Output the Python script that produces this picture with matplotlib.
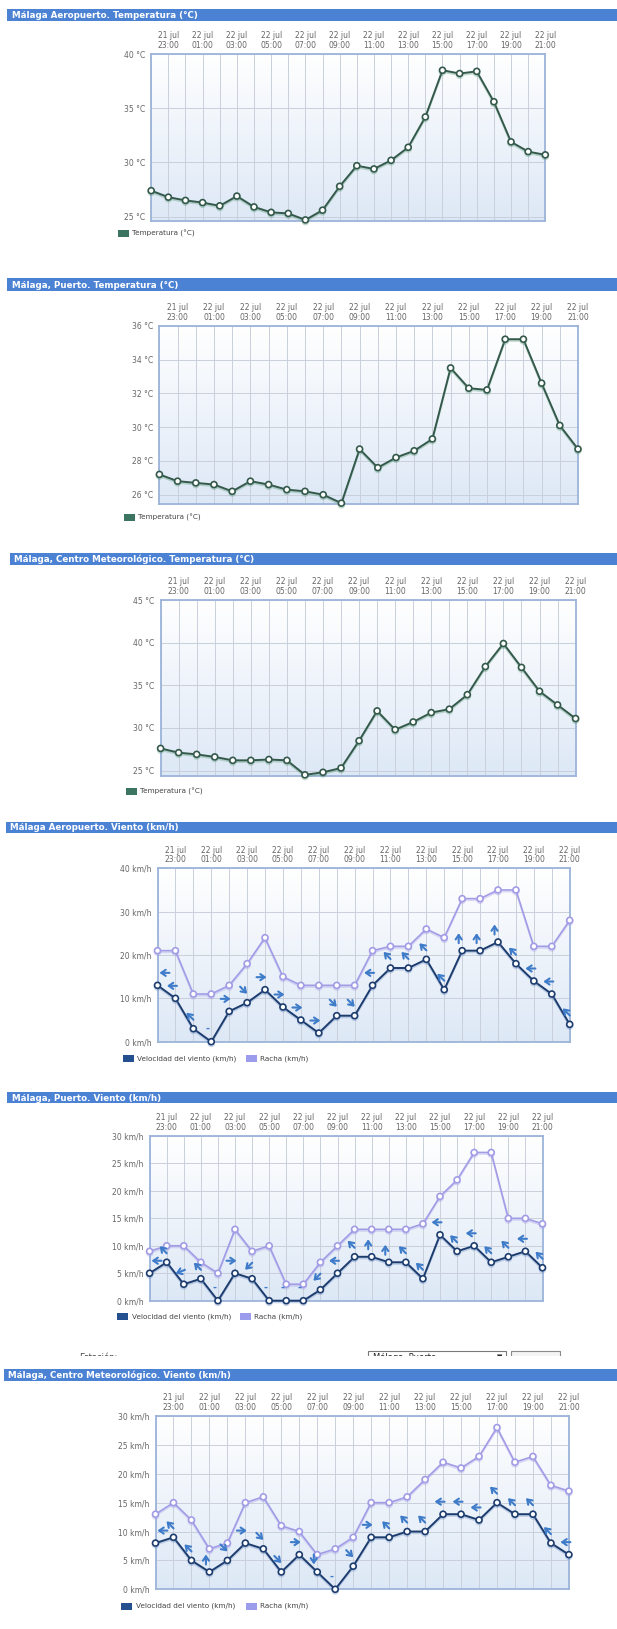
import numpy as np
import matplotlib
matplotlib.use("Agg")
import matplotlib.pyplot as plt
import matplotlib.patheffects as pe
from matplotlib.patches import Rectangle
from matplotlib.colors import LinearSegmentedColormap
from matplotlib.transforms import offset_copy

# ── Data (hourly, 21 jul 22:00 -> 22 jul 21:00) ─────────────────────────
tick_labels = ["21 jul\n23:00", "22 jul\n01:00", "22 jul\n03:00", "22 jul\n05:00",
               "22 jul\n07:00", "22 jul\n09:00", "22 jul\n11:00", "22 jul\n13:00",
               "22 jul\n15:00", "22 jul\n17:00", "22 jul\n19:00", "22 jul\n21:00"]

temp_aeropuerto = [27.4, 26.8, 26.5, 26.3, 26.0, 26.9, 25.9, 25.4, 25.3, 24.7, 25.6, 27.8,
                   29.7, 29.4, 30.2, 31.4, 34.2, 38.5, 38.2, 38.4, 35.6, 31.9, 31.0, 30.7]
temp_puerto = [27.2, 26.8, 26.7, 26.6, 26.2, 26.8, 26.6, 26.3, 26.2, 26.0, 25.5, 28.7,
               27.6, 28.2, 28.6, 29.3, 33.5, 32.3, 32.2, 35.2, 35.2, 32.6, 30.1, 28.7]
temp_centro = [27.6, 27.1, 26.9, 26.6, 26.2, 26.2, 26.3, 26.2, 24.5, 24.8, 25.3, 28.5,
               32.0, 29.8, 30.7, 31.8, 32.2, 33.9, 37.2, 39.9, 37.1, 34.3, 32.7, 31.1]

viento_aeropuerto = [13, 10, 3, 0, 7, 9, 12, 8, 5, 2, 6, 6, 13, 17, 17, 19, 12, 21, 21, 23, 18, 14, 11, 4]
racha_aeropuerto = [21, 21, 11, 11, 13, 18, 24, 15, 13, 13, 13, 13, 21, 22, 22, 26, 24, 33, 33, 35, 35, 22, 22, 28]
dir_aeropuerto = ["W", "W", "NW", "C", "E", "SE", "E", "E", "E", "E", "SE", "SE",
                  "W", "NW", "NW", "NW", "NW", "N", "N", "N", "NW", "W", "W", "NW"]

viento_puerto = [5, 7, 3, 4, 0, 5, 4, 0, 0, 0, 2, 5, 8, 8, 7, 7, 4, 12, 9, 10, 7, 8, 9, 6]
racha_puerto = [9, 10, 10, 7, 5, 13, 9, 10, 3, 3, 7, 10, 13, 13, 13, 13, 14, 19, 22, 27, 27, 15, 15, 14]
dir_puerto = ["W", "NW", "WSW", "NW", "C", "E", "SW", "C", "C", "C", "SW", "W",
              "NW", "N", "N", "NW", "NW", "W", "NW", "W", "NW", "NW", "W", "NW"]

viento_centro = [8, 9, 5, 3, 5, 8, 7, 3, 6, 3, 0, 4, 9, 9, 10, 10, 13, 13, 12, 15, 13, 13, 8, 6]
racha_centro = [13, 15, 12, 7, 8, 15, 16, 11, 10, 6, 7, 9, 15, 15, 16, 19, 22, 21, 23, 28, 22, 23, 18, 17]
dir_centro = ["W", "NW", "NW", "N", "SE", "E", "SE", "SE", "E", "S", "C", "SE",
              "E", "NW", "NW", "NW", "W", "W", "W", "NW", "NW", "NW", "NW", "W"]

ANGLE = {"E": 0, "NE": 45, "N": 90, "NW": 135, "W": 180, "WSW": 202.5,
         "SW": 225, "S": 270, "SE": 315}

# ── Style ────────────────────────────────────────────────────────────────
HEADER_BLUE = "#4c82d4"
TEMP_COL = "#34594b"
TEMP_LEG = "#3b7561"
SPEED_COL = "#1d3c6e"
SPEED_LEG = "#25508f"
RACHA_COL = "#a29ce6"
RACHA_LEG = "#9c9cec"
ARROW_COL = "#3e7bc9"
GRID_COL = "#c9d0db"
TXT_COL = "#666666"

W, H = 617, 1629
fig = plt.figure(figsize=(W / 100, H / 100), dpi=100)
bg_cmap = LinearSegmentedColormap.from_list("bg", ["#ffffff", "#dde8f6"])


def fx(x):
    return x / W


def fy(y):
    return 1 - y / H


def header(top, bottom, left, title):
    fig.add_artist(Rectangle((fx(left), fy(bottom)), 1 - fx(left), (bottom - top) / H,
                             transform=fig.transFigure, color=HEADER_BLUE, lw=0))
    fig.text(fx(left + 4.5), fy((top + bottom) / 2 + 0.5), title, color="white",
             fontsize=6.3, fontweight="bold", va="center", ha="left")


def legend(y, entries):
    for x, color, label in entries:
        fig.add_artist(Rectangle((fx(x), fy(y + 3.5)), 11 / W, 7 / H,
                                 transform=fig.transFigure, color=color, lw=0))
        fig.text(fx(x + 14.5), fy(y), label, fontsize=5.2, color="#444444",
                 va="center", ha="left")


def panel(box, ylim, yticks, unit):
    l, t, r, b = box
    ax = fig.add_axes([fx(l), fy(b), (r - l) / W, (b - t) / H])
    ax.imshow(np.linspace(0, 1, 256).reshape(-1, 1), cmap=bg_cmap, aspect="auto",
              extent=(0, 1, 0, 1), transform=ax.transAxes, zorder=0)
    ax.set_xlim(0, 23)
    ax.set_ylim(*ylim)
    ax.set_xticks(range(24))
    ax.set_xticklabels(["" if i % 2 == 0 else tick_labels[i // 2] for i in range(24)],
                       fontsize=5.5, color=TXT_COL, linespacing=1.05)
    ax.xaxis.set_ticks_position("top")
    ax.set_yticks(yticks)
    ax.set_yticklabels([f"{v} {unit}" for v in yticks], fontsize=5.5, color=TXT_COL)
    ax.tick_params(axis="x", length=0, pad=3)
    ax.tick_params(axis="y", length=0, pad=4.5)
    ax.grid(True, color=GRID_COL, lw=0.7, zorder=1)
    ax.set_axisbelow(True)
    for s in ax.spines.values():
        s.set_color("#9cb4da")
        s.set_linewidth(1.3)
    return ax


def series(ax, values, color, glow, lw=1.4):
    ax.plot(range(len(values)), values, "-o", color=color, lw=lw, ms=4.3, mew=1.2,
            mfc="white", mec=color, zorder=4, clip_on=False,
            path_effects=[pe.SimpleLineShadow(offset=(0, -1.2), shadow_color=glow, alpha=0.35),
                          pe.Normal()])


def arrows(ax, values, dirs):
    half = 3.6  # half arrow length, points
    for i, (v, d) in enumerate(zip(values, dirs)):
        cx = 5 if i == 0 else -2.5
        cy = 9
        if d == "C":
            ax.annotate("-", xy=(i, v), xytext=(cx, cy), textcoords="offset points",
                        ha="center", va="center", fontsize=7, fontweight="bold",
                        color=ARROW_COL, zorder=6)
            continue
        a = np.radians(ANGLE[d])
        ux, uy = np.cos(a) * half, np.sin(a) * half
        tip = offset_copy(ax.transData, fig=fig, x=cx + ux, y=cy + uy, units="points")
        tail = offset_copy(ax.transData, fig=fig, x=cx - ux, y=cy - uy, units="points")
        ax.annotate("", xy=(i, v), xycoords=tip, xytext=(i, v), textcoords=tail,
                    arrowprops=dict(arrowstyle="->,head_length=0.32,head_width=0.22",
                                    color=ARROW_COL, lw=1.5, shrinkA=0, shrinkB=0),
                    zorder=6)


# ── Temperature panels ───────────────────────────────────────────────────
header(9, 20.7, 7, "Málaga Aeropuerto. Temperatura (°C)")
ax = panel((151.2, 54, 545.3, 220.7), (24.63, 40), [25, 30, 35, 40], "°C")
series(ax, temp_aeropuerto, TEMP_COL, "#5a9a7a")
legend(233.3, [(118, TEMP_LEG, "Temperatura (°C)")])

header(278.3, 290.7, 7, "Málaga, Puerto. Temperatura (°C)")
ax = panel((159.4, 325.7, 578, 504), (25.45, 36), [26, 28, 30, 32, 34, 36], "°C")
series(ax, temp_puerto, TEMP_COL, "#5a9a7a")
legend(517, [(124, TEMP_LEG, "Temperatura (°C)")])

header(553.3, 565, 9.8, "Málaga, Centro Meteorológico. Temperatura (°C)")
ax = panel((160.6, 600, 575.6, 775.7), (24.4, 45), [25, 30, 35, 40, 45], "°C")
series(ax, temp_centro, TEMP_COL, "#5a9a7a")
legend(791.7, [(126, TEMP_LEG, "Temperatura (°C)")])

# ── Wind panels ──────────────────────────────────────────────────────────
header(821.7, 833.3, 5.9, "Málaga Aeropuerto. Viento (km/h)")
ax = panel((157.5, 868.3, 569.7, 1041.7), (0, 40), [0, 10, 20, 30, 40], "km/h")
series(ax, racha_aeropuerto, RACHA_COL, RACHA_COL, lw=1.2)
series(ax, viento_aeropuerto, SPEED_COL, "#6d8fc4")
arrows(ax, viento_aeropuerto, dir_aeropuerto)
legend(1058.3, [(122.8, SPEED_LEG, "Velocidad del viento (km/h)"),
                (246, RACHA_LEG, "Racha (km/h)")])

header(1092.3, 1103.3, 7, "Málaga, Puerto. Viento (km/h)")
ax = panel((149.6, 1136, 542.5, 1300.7), (0, 30), [0, 5, 10, 15, 20, 25, 30], "km/h")
series(ax, racha_puerto, RACHA_COL, RACHA_COL, lw=1.2)
series(ax, viento_puerto, SPEED_COL, "#6d8fc4")
arrows(ax, viento_puerto, dir_puerto)
legend(1316.7, [(117.3, SPEED_LEG, "Velocidad del viento (km/h)"),
                (240, RACHA_LEG, "Racha (km/h)")])

# cut-off page form between the panels
fig.text(fx(79), fy(1357), "Estación:", fontsize=6, color="#444444", va="center")
fig.add_artist(Rectangle((fx(368), fy(1365)), 138 / W, 14 / H, transform=fig.transFigure,
                         facecolor="white", edgecolor="#7a7a7a", lw=0.8))
fig.text(fx(373), fy(1357), "Málaga, Puerto", fontsize=6, color="#222222", va="center")
fig.text(fx(497), fy(1357), "▼", fontsize=5, color="#222222", va="center")
fig.add_artist(Rectangle((fx(510.6), fy(1365)), 49.5 / W, 14 / H, transform=fig.transFigure,
                         facecolor="#f4f4f4", edgecolor="#8a8a8a", lw=0.8))
fig.add_artist(Rectangle((0, fy(1368)), 1, 12.3 / H, transform=fig.transFigure,
                         color="white", lw=0, zorder=10))

header(1369.3, 1380.7, 3.9, "Málaga, Centro Meteorológico. Viento (km/h)")
ax = panel((155.5, 1416, 568.9, 1589.3), (0, 30), [0, 5, 10, 15, 20, 25, 30], "km/h")
series(ax, racha_centro, RACHA_COL, RACHA_COL, lw=1.2)
series(ax, viento_centro, SPEED_COL, "#6d8fc4")
arrows(ax, viento_centro, dir_centro)
legend(1606, [(121.3, SPEED_LEG, "Velocidad del viento (km/h)"),
              (246, RACHA_LEG, "Racha (km/h)")])

fig.savefig("out.png", dpi=100, facecolor="white")
